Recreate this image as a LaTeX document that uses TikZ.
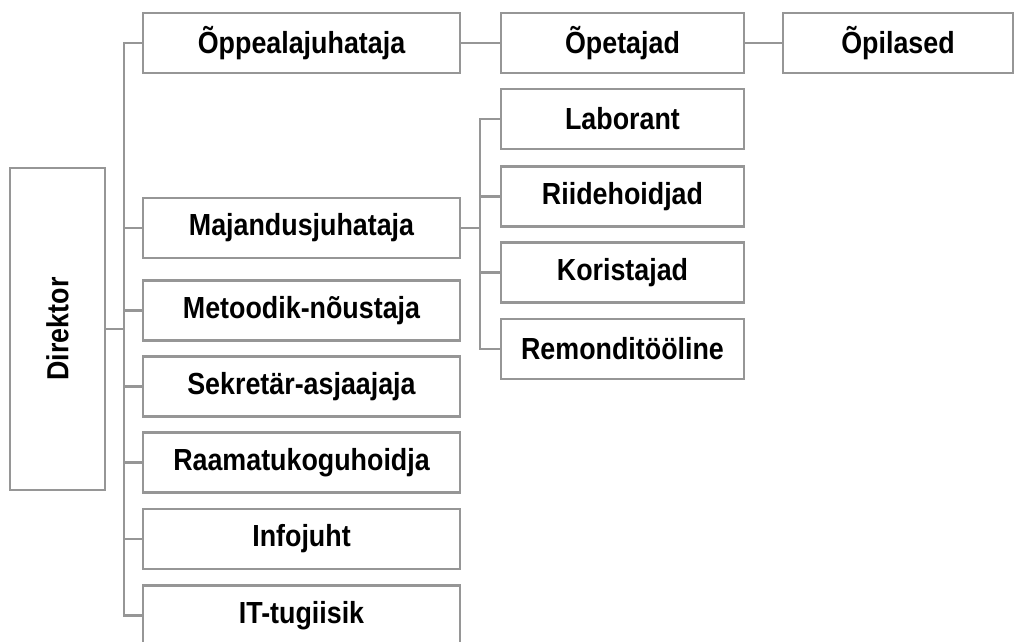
\documentclass[tikz,border=0pt]{standalone}
\usepackage{fontspec}
\setmainfont{Liberation Sans}[FakeStretch=0.88]
\definecolor{linegray}{RGB}{150,150,150}

\begin{document}
\begin{tikzpicture}[x=1pt, y=-1pt,
    box/.style={draw=linegray, line width=2.4pt, inner sep=0pt, minimum height=60pt,
      font=\fontsize{30.5}{36}\selectfont\bfseries},
    wide/.style={box, minimum width=317pt},
    mid/.style={box, minimum width=243pt},
    link/.style={draw=linegray, line width=2.4pt}]
  \useasboundingbox (0,0) rectangle (1014,642);

  \node[box, minimum width=95pt, minimum height=322pt] (dir) at (57.5, 329) {\rotatebox{90}{Direktor}};

  \node[wide] (oppe) at (301.5, 43) {Õppealajuhataja};
  \node[wide] (maj) at (301.5, 228) {Majandusjuhataja};
  \node[wide] (met) at (301.5, 310.5) {Metoodik-nõustaja};
  \node[wide] (sek) at (301.5, 386.5) {Sekretär-asjaajaja};
  \node[wide] (raam) at (301.5, 462.5) {Raamatukoguhoidja};
  \node[wide] (info) at (301.5, 539) {Infojuht};
  \node[wide] (it) at (301.5, 615.5) {IT-tugiisik};

  \node[mid] (opet) at (622.5, 43) {Õpetajad};
  \node[mid] (lab) at (622.5, 119) {Laborant};
  \node[mid] (riie) at (622.5, 196.5) {Riidehoidjad};
  \node[mid] (kor) at (622.5, 272.5) {Koristajad};
  \node[mid] (rem) at (622.5, 349) {Remonditööline};

  \node[box, minimum width=230pt] (opil) at (898, 43) {Õpilased};

  \coordinate (tr) at (124, 0);
  \coordinate (sb) at (480, 0);

	\draw[link] (oppe.west) -| (tr |- it.west) -- (it.west);
	\draw[link] (dir.east) -- (dir.east -| tr);
	\draw[link] (maj.west) -- (maj.west -| tr);
	\draw[link] (met.west) -- (met.west -| tr);
	\draw[link] (sek.west) -- (sek.west -| tr);
	\draw[link] (raam.west) -- (raam.west -| tr);
	\draw[link] (info.west) -- (info.west -| tr);
	\draw[link] (oppe.east) -- (opet.west);
	\draw[link] (opet.east) -- (opil.west);
	\draw[link] (lab.west) -| (sb |- rem.west) -- (rem.west);
	\draw[link] (maj.east) -- (maj.east -| sb);
	\draw[link] (riie.west) -- (riie.west -| sb);
	\draw[link] (kor.west) -- (kor.west -| sb);

\end{tikzpicture}
\end{document}
